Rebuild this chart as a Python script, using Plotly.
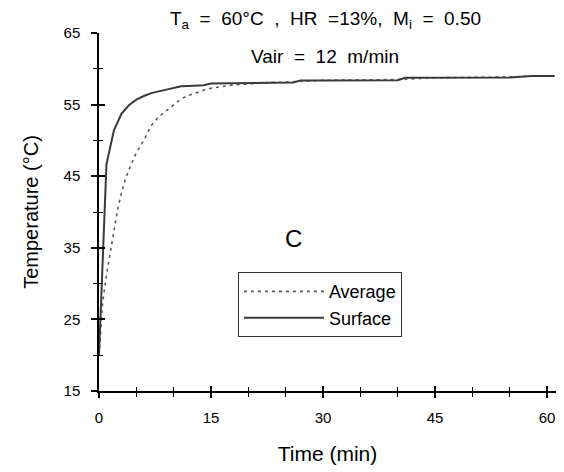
import plotly.graph_objects as go

# Data
surface_time = [0, 0.5, 1, 2, 3, 4, 5, 6, 7, 8, 9, 10, 11, 12, 13, 14, 15, 17, 20, 23, 26, 27, 30, 35, 40, 41, 45, 50, 55, 58, 61]
surface_temp = [20, 33, 46.7, 51.4, 53.7, 54.9, 55.7, 56.2, 56.6, 56.85, 57.05, 57.3, 57.55, 57.6, 57.65, 57.7, 57.95, 58.0, 58.0, 58.05, 58.1, 58.35, 58.35, 58.4, 58.4, 58.75, 58.75, 58.8, 58.8, 59.0, 59.0]

average_time = [0, 0.5, 1, 1.5, 2, 2.5, 3, 3.5, 4, 4.5, 5, 6, 7, 8, 9, 10, 11, 12, 13, 14, 15, 16, 17, 18, 19, 20, 22, 25, 30, 35, 40, 45, 50, 55, 58, 61]
average_temp = [20, 27.5, 31.2, 34.4, 37.6, 40.4, 42.6, 44.5, 45.9, 47.2, 48.3, 50.0, 52.1, 53.3, 54.1, 55.0, 55.8, 56.3, 56.7, 57.0, 57.3, 57.5, 57.6, 57.75, 57.85, 57.95, 58.05, 58.15, 58.4, 58.45, 58.5, 58.75, 58.8, 58.85, 59.0, 59.0]

x_ticks = [0, 15, 30, 45, 60]
y_ticks = [15, 25, 35, 45, 55, 65]

FONT = "Liberation Sans, Arial, sans-serif"
NB = "\u00a0"
S2 = NB + NB

fig = go.Figure()
fig.add_trace(go.Scatter(x=average_time, y=average_temp, mode="lines", name="Average",
                         line=dict(color="#5a5a5a", width=1.6, dash="3px,4px")))
fig.add_trace(go.Scatter(x=surface_time, y=surface_temp, mode="lines", name="Surface",
                         line=dict(color="#3a3a3a", width=2)))
# invisible trace to carry the overlay axes (inside half of crossing ticks)
fig.add_trace(go.Scatter(x=[0], y=[15], xaxis="x2", yaxis="y2", mode="markers",
                         marker=dict(opacity=0), showlegend=False, hoverinfo="skip"))

common_x = dict(range=[0, 61.2], tickvals=x_ticks, showgrid=False, zeroline=False)
common_y = dict(range=[15, 65], tickvals=y_ticks, showgrid=False, zeroline=False)

title1 = f"T<sub>a</sub>{S2}={S2}60°C{S2},{S2}HR{S2}=13%,{S2}M<sub>i</sub>{S2}={S2}0.50"
title2 = f"Vair{S2}={S2}12{S2}m/min"

fig.update_layout(
    width=564, height=472,
    margin=dict(l=99, r=8, t=33, b=81),
    paper_bgcolor="white", plot_bgcolor="white",
    font=dict(family=FONT, color="black"),
    xaxis=dict(**common_x, showline=True, linecolor="black", linewidth=1.5,
               ticks="outside", ticklen=5, tickwidth=1.5, tickcolor="black",
               minor=dict(dtick=5, ticks="outside", ticklen=4, tickwidth=1, tickcolor="black"),
               tickfont=dict(size=15, family=FONT), ticklabelstandoff=7,
               title=dict(text="Time (min)", font=dict(size=21, family=FONT), standoff=22)),
    yaxis=dict(**common_y, showline=True, linecolor="black", linewidth=1.5,
               ticks="outside", ticklen=6, tickwidth=1.5, tickcolor="black",
               minor=dict(dtick=5, ticks="outside", ticklen=4, tickwidth=1, tickcolor="black"),
               tickfont=dict(size=15, family=FONT), ticklabelstandoff=8,
               title=dict(text="Temperature (°C)", font=dict(size=20, family=FONT), standoff=20)),
    xaxis2=dict(**common_x, overlaying="x", anchor="y2", showline=False, showticklabels=False,
                ticks="inside", ticklen=5, tickwidth=1.5, tickcolor="black",
                minor=dict(dtick=5, ticks="inside", ticklen=4, tickwidth=1, tickcolor="black")),
    yaxis2=dict(**common_y, overlaying="y", anchor="x2", showline=False, showticklabels=False,
                ticks="inside", ticklen=6, tickwidth=1.5, tickcolor="black",
                minor=dict(dtick=5, ticks="inside", ticklen=4, tickwidth=1, tickcolor="black")),
    legend=dict(x=0.304, y=0.332, xanchor="left", yanchor="top",
                bordercolor="#333333", borderwidth=1, bgcolor="white",
                font=dict(size=18, family=FONT), itemwidth=80),
    showlegend=True,
    annotations=[
        dict(text=title1, x=0.495, y=1.035,
             xref="paper", yref="paper", showarrow=False, font=dict(size=19, family=FONT),
             xanchor="center", yanchor="middle"),
        dict(text=title2, x=0.495, y=0.935, xref="paper", yref="paper",
             showarrow=False, font=dict(size=19, family=FONT), xanchor="center", yanchor="middle"),
        dict(text="C", x=0.425, y=0.425, xref="paper", yref="paper", showarrow=False,
             font=dict(size=24, family=FONT), xanchor="center", yanchor="middle"),
    ],
)

fig.write_html("out.html", config={"displayModeBar": False},
               post_script="document.body.style.margin='0';")
